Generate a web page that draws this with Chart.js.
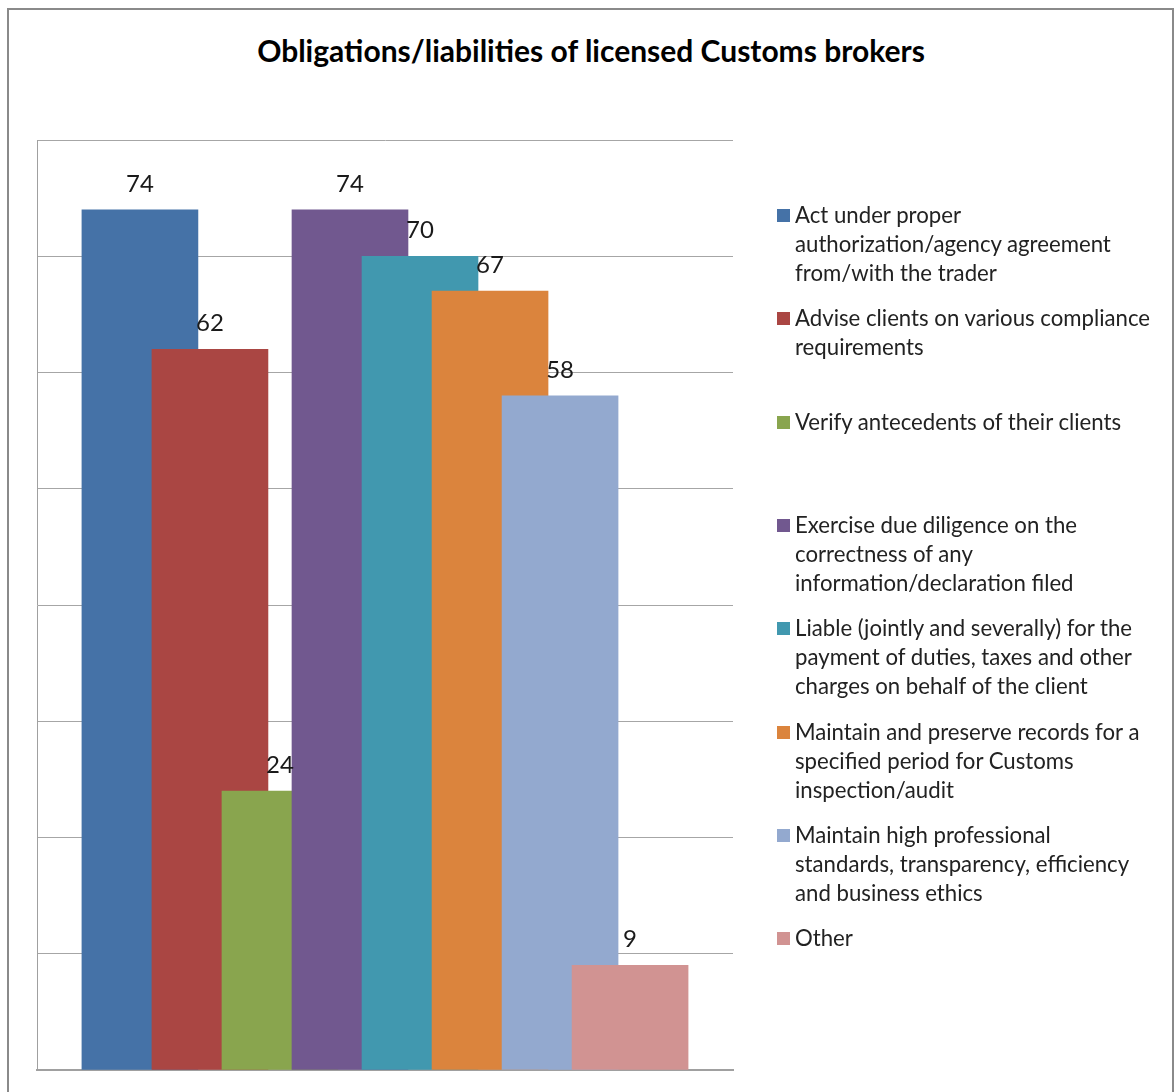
<!DOCTYPE html>
<html>
<head>
<meta charset="utf-8">
<script src="https://cdn.jsdelivr.net/npm/chart.js@4/dist/chart.umd.min.js"></script>
<style>
  body { margin: 0; background: #fff; width: 1176px; height: 1092px; overflow: hidden; position: relative; font-family: Lato, "Open Sans", sans-serif; }
  #frame { position: absolute; left: 7px; top: 8px; width: 1163px; height: 1110px; border: 2px solid #8a8a8a; }
  #title { position: absolute; left: 0; width: 1182px; top: 35px; text-align: center; font-weight: bold; font-size: 30px; line-height: 30px; color: #000; }
  #chartWrap { position: absolute; left: 0; top: 0; }
  #legend { position: absolute; left: 777px; top: 200px; width: 395px; }
  .item { position: absolute; left: 0; font-size: 22.2px; line-height: 29px; color: #222; padding-left: 18px; white-space: nowrap; }
  .box { position: absolute; left: 0; top: 9px; width: 13px; height: 13px; }
</style>
</head>
<body>
<div id="frame"></div>
<div id="title">Obligations/liabilities of licensed Customs brokers</div>
<div id="chartWrap"><canvas id="myChart" width="1176" height="1092"></canvas></div>
<div id="legend"></div>
<script>
// series names (wrapped as in the legend), values and colours
var seriesNames = [
  ['Act under proper', 'authorization/agency agreement', 'from/with the trader'],
  ['Advise clients on various compliance', 'requirements'],
  ['Verify antecedents of their clients'],
  ['Exercise due diligence on the', 'correctness of any', 'information/declaration filed'],
  ['Liable (jointly and severally) for the', 'payment of duties, taxes and other', 'charges on behalf of the client'],
  ['Maintain and preserve records for a', 'specified period for Customs', 'inspection/audit'],
  ['Maintain high professional', 'standards, transparency, efficiency', 'and business ethics'],
  ['Other']
];
var seriesValues = [74, 62, 24, 74, 70, 67, 58, 9];
var seriesColors = ['#4572A7', '#AA4643', '#89A54E', '#71588F', '#4198AF', '#DB843D', '#93A9CF', '#D19392'];
var yTicks = [0, 10, 20, 30, 40, 50, 60, 70, 80];

var datasets = [];
for (var i = 0; i < seriesValues.length; i++) {
  datasets.push({
    label: seriesNames[i].join(' '),
    data: [{x: i, y: seriesValues[i]}],
    backgroundColor: seriesColors[i],
    borderWidth: 0,
    grouped: false,
    barThickness: 116,
    order: -i // later series drawn on top
  });
}

// value labels above each bar
var valueLabels = {
  id: 'valueLabels',
  afterDatasetsDraw: function(chart) {
    var ctx = chart.ctx;
    ctx.save();
    ctx.font = '24px Lato, "Open Sans", sans-serif';
    ctx.fillStyle = '#1a1a1a';
    ctx.textAlign = 'center';
    ctx.textBaseline = 'alphabetic';
    chart.data.datasets.forEach(function(ds, di) {
      var meta = chart.getDatasetMeta(di);
      meta.data.forEach(function(bar, j) {
        ctx.fillText(ds.data[j].y, bar.x, bar.y - 18);
      });
    });
    ctx.restore();
  }
};

var ctx = document.getElementById('myChart');
var myChart = new Chart(ctx, {
  type: 'bar',
  data: { datasets: datasets },
  options: {
    responsive: false,
    animation: false,
    devicePixelRatio: 1,
    events: [],
    layout: { padding: { left: 37, top: 140, right: 443, bottom: 22 } },
    plugins: { legend: { display: false }, tooltip: { enabled: false } },
    scales: {
      x: {
        type: 'linear',
        offset: false,
        min: -1.47,
        max: 8.47,
        grid: { display: false, drawTicks: false },
        ticks: { display: false },
        border: { display: true, color: '#a0a0a0', width: 2 }
      },
      y: {
        min: yTicks[0],
        max: yTicks[yTicks.length - 1],
        afterBuildTicks: function(axis) {
          axis.ticks = yTicks.map(function(v) { return {value: v}; });
        },
        grid: { color: '#a6a6a6', lineWidth: 1, drawTicks: false },
        ticks: { display: false },
        border: { display: true, color: '#a0a0a0', width: 1 }
      }
    }
  },
  plugins: [valueLabels]
});

// legend built from the same arrays
var legend = document.getElementById('legend');
seriesNames.forEach(function(lines, i) {
  var item = document.createElement('div');
  item.className = 'item';
  item.style.top = (i * 103.3) + 'px';
  var box = document.createElement('div');
  box.className = 'box';
  box.style.background = seriesColors[i];
  item.appendChild(box);
  lines.forEach(function(line, k) {
    if (k > 0) item.appendChild(document.createElement('br'));
    item.appendChild(document.createTextNode(line));
  });
  legend.appendChild(item);
});
</script>
</body>
</html>
